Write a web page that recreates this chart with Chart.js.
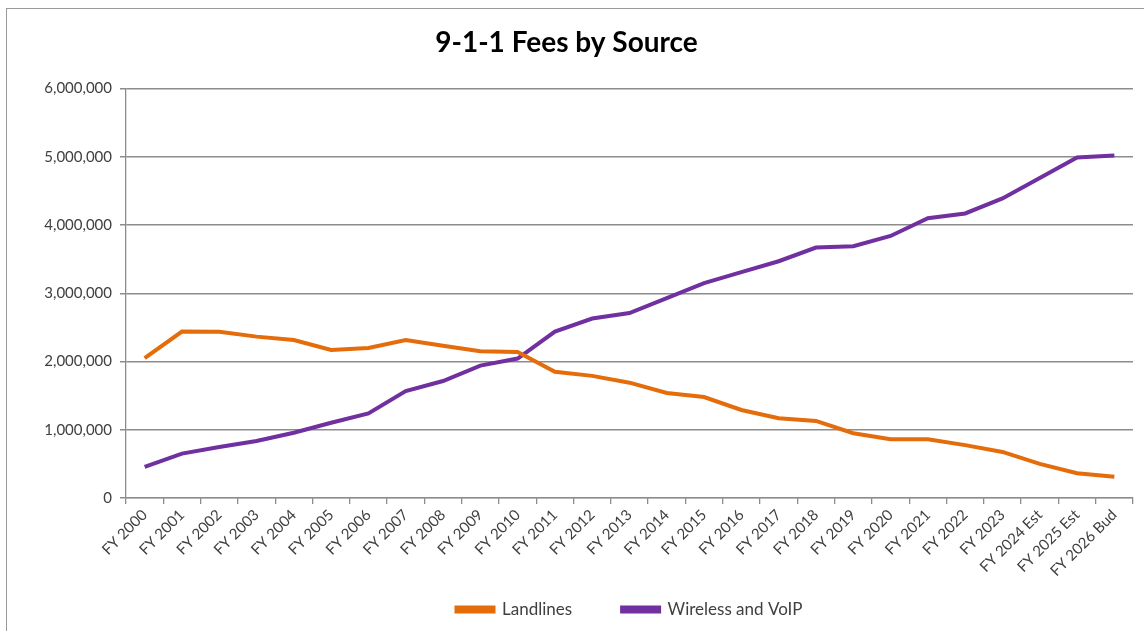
<!DOCTYPE html>
<html>
<head>
<meta charset="utf-8">
<title>9-1-1 Fees by Source</title>
<script src="https://cdn.jsdelivr.net/npm/chart.js@4.4.1/dist/chart.umd.min.js"></script>
<style>
  html, body { margin: 0; padding: 0; background: #fff; }
  #wrap { position: relative; width: 1144px; height: 631px; }
</style>
</head>
<body>
<div id="wrap"><canvas id="feesChart" width="1144" height="631"></canvas></div>
<script>
// Données
const years = [
  'FY 2000', 'FY 2001', 'FY 2002', 'FY 2003', 'FY 2004', 'FY 2005', 'FY 2006',
  'FY 2007', 'FY 2008', 'FY 2009', 'FY 2010', 'FY 2011', 'FY 2012', 'FY 2013',
  'FY 2014', 'FY 2015', 'FY 2016', 'FY 2017', 'FY 2018', 'FY 2019', 'FY 2020',
  'FY 2021', 'FY 2022', 'FY 2023', 'FY 2024 Est', 'FY 2025 Est', 'FY 2026 Bud'
];
const landlines = [
  2050000, 2440000, 2435000, 2365000, 2315000, 2170000, 2200000,
  2315000, 2230000, 2150000, 2140000, 1850000, 1790000, 1690000,
  1540000, 1480000, 1290000, 1170000, 1130000, 950000, 860000,
  860000, 775000, 675000, 500000, 364000, 310000
];
const wireless = [
  456000, 650000, 747000, 835000, 956000, 1103000, 1240000,
  1566000, 1714000, 1940000, 2044000, 2440000, 2630000, 2710000,
  2930000, 3150000, 3310000, 3470000, 3670000, 3690000, 3840000,
  4100000, 4170000, 4390000, 4690000, 4990000, 5020000
];
const yTicks = [0, 1000000, 2000000, 3000000, 4000000, 5000000, 6000000];

const orange = '#E46C0A';
const purple = '#7030A0';
const gridGray = '#8c8c8c';
const textColor = '#404040';

// cadre gris autour du graphique (comme dans Excel)
const framePlugin = {
  id: 'frame',
  beforeDraw(chart) {
    const ctx = chart.ctx;
    ctx.save();
    ctx.fillStyle = '#fff';
    ctx.fillRect(0, 0, chart.width, chart.height);
    ctx.strokeStyle = '#9a9a9a';
    ctx.lineWidth = 1;
    ctx.strokeRect(6.5, 8.5, chart.width + 20, chart.height + 20);
    ctx.restore();
  }
};

const ctx = document.getElementById('feesChart').getContext('2d');
new Chart(ctx, {
  type: 'line',
  data: {
    labels: years,
    datasets: [
      {
        label: 'Landlines',
        data: landlines,
        borderColor: orange,
        backgroundColor: orange,
        borderWidth: 4,
        pointRadius: 0,
        tension: 0
      },
      {
        label: 'Wireless and VoIP',
        data: wireless,
        borderColor: purple,
        backgroundColor: purple,
        borderWidth: 4,
        pointRadius: 0,
        tension: 0
      }
    ]
  },
  options: {
    responsive: false,
    animation: false,
    layout: { padding: { left: 0, right: 11, top: 0, bottom: 3 } },
    scales: {
      x: {
        offset: true,
        grid: { drawOnChartArea: false, drawTicks: true, tickLength: 6, offset: true, color: gridGray, lineWidth: 1.3 },
        border: { color: gridGray, width: 1.3 },
        ticks: {
          autoSkip: false, maxRotation: 45, minRotation: 45, padding: 2,
          color: textColor, font: { family: 'Lato', size: 15 }
        },
        afterFit: scale => {
          scale.height = 53;
          // les étiquettes débordent sur la légende : pas de découpage
          scale._computeLabelArea = () => undefined;
        }
      },
      y: {
        min: 0, max: 6000000,
        afterBuildTicks: scale => { scale.ticks = yTicks.map(v => ({ value: v })); },
        grid: { color: gridGray, lineWidth: 1.5, tickLength: 6 },
        border: { color: gridGray, width: 1.3 },
        ticks: {
          padding: 8,
          color: textColor, font: { family: 'Lato', size: 15 },
          callback: v => v.toLocaleString('en-US')
        },
        afterFit: scale => { scale.width = 126; }
      }
    },
    plugins: {
      title: {
        display: true,
        text: '9-1-1 Fees by Source',
        color: '#000',
        font: { family: 'Lato', size: 28, weight: 'bold' },
        padding: { top: 26, bottom: 29 }
      },
      legend: {
        position: 'bottom',
        fullSize: false,
        labels: {
          boxWidth: 37, boxHeight: 4, padding: 50,
          color: textColor, font: { family: 'Lato', size: 17 }
        }
      },
      tooltip: { enabled: false }
    }
  },
  plugins: [framePlugin]
});
</script>
</body>
</html>
